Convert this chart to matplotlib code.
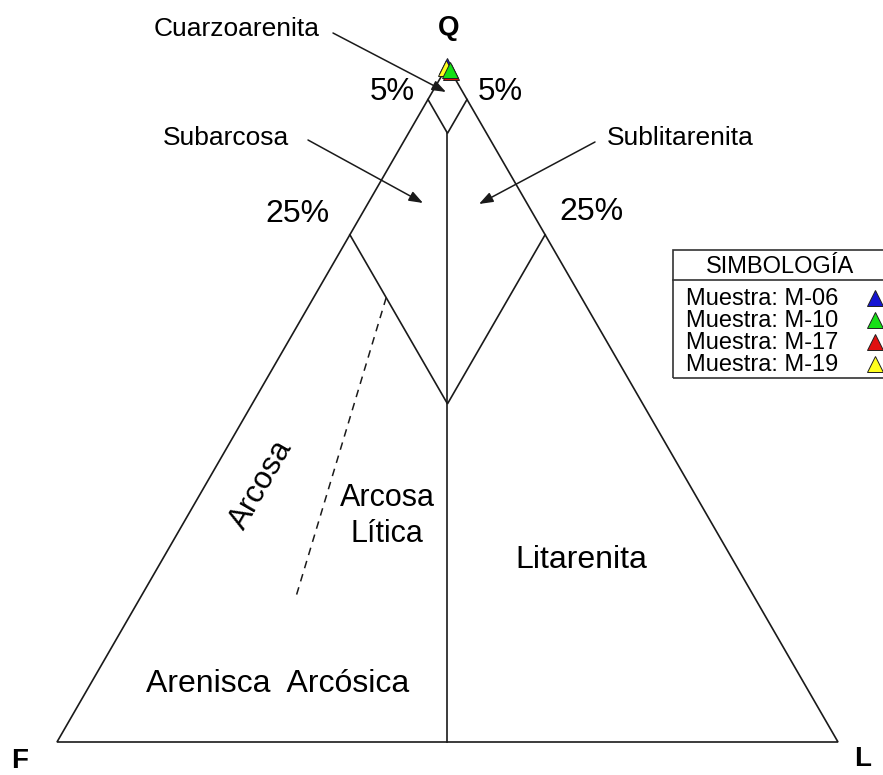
import numpy as np
import matplotlib
matplotlib.use("Agg")
import matplotlib.pyplot as plt
from matplotlib.patches import Rectangle

plt.rcParams['font.family'] = ['Liberation Sans', 'DejaVu Sans']

# muestras (Q, F, L en %)
muestras = ["M-06", "M-10", "M-17", "M-19"]
Q = [100.0, 99.3, 99.0, 99.7]
F = [0.0, 0.0, 0.0, 0.3]
L = [0.0, 0.7, 1.0, 0.0]
colores = ["#1414d2", "#16e016", "#e01010", "#ffff1e"]
orden = [0, 2, 3, 1]  # orden de dibujo

H = np.sqrt(3) / 2


def tern(q, f, l):
    s = q + f + l
    q, f, l = q / s, f / s, l / s
    return l + q / 2, q * H


def linea(ax, puntos, **kw):
    xs, ys = zip(*[tern(*p) for p in puntos])
    ax.plot(xs, ys, **kw)


fig = plt.figure(figsize=(8.83, 7.75), dpi=100)
ax = fig.add_axes([0, 0, 1, 1])
ax.set_xlim(-57 / 781, 826 / 781)
ax.set_ylim(-33 / 781, 742 / 781)
ax.axis('off')

kw = dict(color='#1a1a1a', lw=1.2, solid_joinstyle='miter')
# triangulo
linea(ax, [(100, 0, 0), (0, 100, 0), (0, 0, 100), (100, 0, 0)], **kw)
# limites de clases (Folk)
linea(ax, [(95, 5, 0), (90, 5, 5), (95, 0, 5)], **kw)
linea(ax, [(75, 25, 0), (50, 25, 25), (75, 0, 25)], **kw)
linea(ax, [(90, 5, 5), (0, 50, 50)], **kw)
linea(ax, [(65.7, 25, 9.3), (21.3, 58.8, 19.9)], color='#1a1a1a', lw=1.1,
      dashes=(5, 4))

# muestras
for i in orden:
    x, y = tern(Q[i], F[i], L[i])
    ax.plot(x, y, marker='^', ms=12, mfc=colores[i], mec='#202020', mew=0.7,
            ls='none', zorder=5)


def px(x, y):
    return x / 883, 1 - y / 775


T = fig.transFigure

# vertices
fig.text(*px(449, 35), "Q", fontsize=20, fontweight='bold', ha='center', va='baseline')
fig.text(*px(20, 768), "F", fontsize=20, fontweight='bold', ha='center', va='baseline')
fig.text(*px(863, 766), "L", fontsize=20, fontweight='bold', ha='center', va='baseline')

# porcentajes
fig.text(*px(392, 100), "5%", fontsize=22.5, ha='center', va='baseline')
fig.text(*px(500, 100), "5%", fontsize=22.5, ha='center', va='baseline')
fig.text(*px(297, 222), "25%", fontsize=23, ha='center', va='baseline')
fig.text(*px(591, 220), "25%", fontsize=23, ha='center', va='baseline')

# nombres con flecha
flecha = dict(arrowstyle='-|>,head_length=0.6,head_width=0.22', color='#1a1a1a',
              lw=1.1, mutation_scale=14, shrinkA=0, shrinkB=0)
fig.text(*px(237, 36), "Cuarzoarenita", fontsize=19, ha='center', va='baseline')
ax.annotate("", xy=px(446, 92), xytext=px(333, 33), xycoords=T, textcoords=T,
            arrowprops=flecha)
fig.text(*px(226, 145), "Subarcosa", fontsize=19, ha='center', va='baseline')
ax.annotate("", xy=px(423, 203), xytext=px(308, 140), xycoords=T, textcoords=T,
            arrowprops=flecha)
fig.text(*px(680, 145), "Sublitarenita", fontsize=19, ha='center', va='baseline')
ax.annotate("", xy=px(479, 204), xytext=px(595, 142), xycoords=T, textcoords=T,
            arrowprops=flecha)

# nombres de campos
fig.text(*px(261, 485), "Arcosa", fontsize=22.5, ha='center', va='center', rotation=60)
fig.text(*px(387, 516), "Arcosa\nLítica", fontsize=22, ha='center', va='center',
         linespacing=1.3)
fig.text(*px(581, 560), "Litarenita", fontsize=23, ha='center', va='center')
fig.text(*px(278, 692), "Arenisca  Arcósica", fontsize=23, ha='center', va='baseline')

# simbologia
fig.patches.append(Rectangle(px(673, 378), 230 / 883, 128 / 775, transform=T,
                             fill=False, ec='#333333', lw=1.2))
fig.lines.append(plt.Line2D([673 / 883, 1], [1 - 280 / 775] * 2, transform=T,
                            color='#333333', lw=1.2))
fig.text(*px(780, 273), "SIMBOLOGÍA", fontsize=17, ha='center', va='baseline')
for i, (m, c) in enumerate(zip(muestras, colores)):
    yb = 305 + 22 * i
    fig.text(*px(686, yb), "Muestra: " + m, fontsize=17, ha='left', va='baseline')
    fig.lines.append(plt.Line2D([875 / 883], [1 - (yb - 7) / 775], transform=T,
                                marker='^', ms=11, mfc=c, mec='#202020', mew=0.7,
                                ls='none'))

fig.savefig("out.png", dpi=100, facecolor='white')
